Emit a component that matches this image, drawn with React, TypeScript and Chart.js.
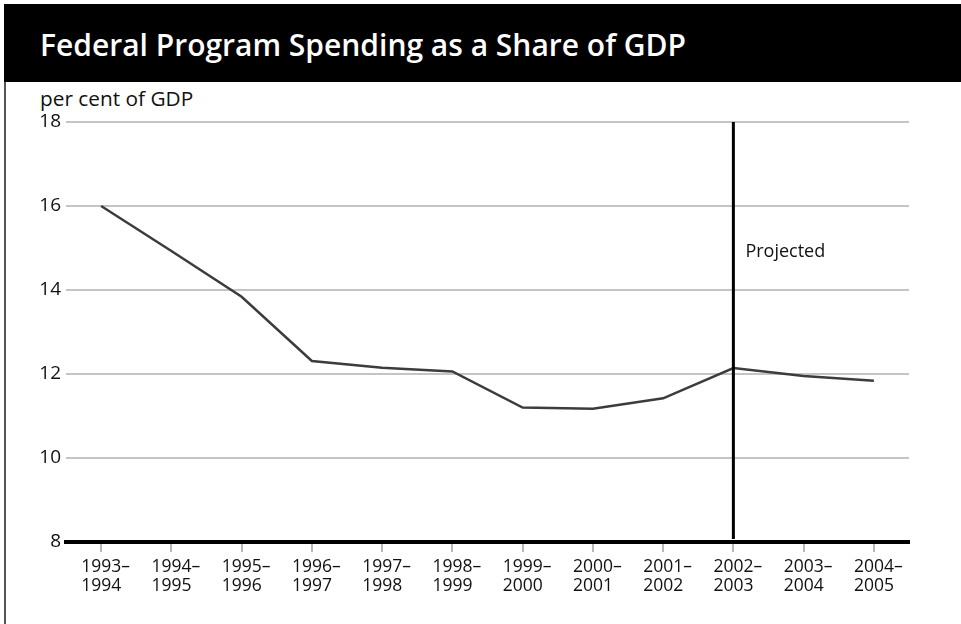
import React, { useEffect, useRef } from 'react';
import { Chart, registerables } from 'chart.js';

Chart.register(...registerables);

const titleText = 'Federal Program Spending as a Share of GDP';
const yAxisTitle = 'per cent of GDP';
const categories: string[][] = [
  ['1993–', '1994'],
  ['1994–', '1995'],
  ['1995–', '1996'],
  ['1996–', '1997'],
  ['1997–', '1998'],
  ['1998–', '1999'],
  ['1999–', '2000'],
  ['2000–', '2001'],
  ['2001–', '2002'],
  ['2002–', '2003'],
  ['2003–', '2004'],
  ['2004–', '2005'],
];
const spending = [16.0, 14.93, 13.84, 12.31, 12.15, 12.06, 11.2, 11.17, 11.42, 12.14, 11.95, 11.84];
const yTicks = [8, 10, 12, 14, 16, 18];
const projectedIndex = 9;
const projectedLabel = 'Projected';
const projectedLabelValue = 14.9;

const FONT = '"Open Sans", "DejaVu Sans", sans-serif';

const projectionPlugin = {
  id: 'projection',
  afterDatasetsDraw(chart: any) {
    const { ctx, scales } = chart;
    const x = scales.x;
    const y = scales.y;
    const px = x.getPixelForValue(projectedIndex);
    ctx.save();
    ctx.strokeStyle = '#000';
    ctx.lineWidth = 3;
    ctx.beginPath();
    ctx.moveTo(px, y.getPixelForValue(yTicks[yTicks.length - 1]));
    ctx.lineTo(px, y.getPixelForValue(yTicks[0]) - 3);
    ctx.stroke();
    ctx.fillStyle = '#111';
    ctx.font = `18px ${FONT}`;
    ctx.textBaseline = 'middle';
    ctx.textAlign = 'left';
    ctx.fillText(projectedLabel, px + 12, y.getPixelForValue(projectedLabelValue));
    ctx.restore();
  },
};

export default function App() {
  const canvasRef = useRef<HTMLCanvasElement | null>(null);

  useEffect(() => {
    if (!canvasRef.current) return;
    const chart = new Chart(canvasRef.current, {
      type: 'line',
      data: {
        labels: categories,
        datasets: [
          {
            data: spending,
            borderColor: '#3c3c3c',
            borderWidth: 2.5,
            pointRadius: 0,
            tension: 0,
            fill: false,
          },
        ],
      },
      options: {
        animation: false,
        responsive: true,
        maintainAspectRatio: false,
        layout: { padding: { top: 40, left: 0, right: 52, bottom: 22 } },
        plugins: {
          legend: { display: false },
          tooltip: { enabled: false },
          title: { display: false },
        },
        scales: {
          x: {
            type: 'category',
            offset: true,
            afterFit: (scale: any) => {
              scale.height = 60;
            },
            grid: {
              display: true,
              drawOnChartArea: false,
              drawTicks: true,
              tickLength: 10,
              color: '#b8b8b8',
              lineWidth: 2,
              offset: false,
            },
            border: { display: true, color: '#000', width: 4 },
            ticks: {
              autoSkip: false,
              maxRotation: 0,
              minRotation: 0,
              align: 'start',
              labelOffset: -20,
              padding: 6,
              color: '#111',
              font: { family: FONT, size: 17.5, lineHeight: '19px' },
            },
          },
          y: {
            min: 8,
            max: 18,
            afterFit: (scale: any) => {
              scale.width = 66;
            },
            afterBuildTicks: (scale: any) => {
              scale.ticks = yTicks.map((v) => ({ value: v }));
            },
            grid: {
              color: '#c4c4c4',
              lineWidth: 2,
              drawTicks: false,
            },
            border: { display: false },
            ticks: {
              padding: 5,
              color: '#111',
              font: { family: FONT, size: 19 },
            },
          },
        },
      },
      plugins: [projectionPlugin],
    });
    return () => chart.destroy();
  }, []);

  return (
    <div
      style={{
        position: 'absolute',
        left: 0,
        top: 0,
        width: 961,
        height: 624,
        background: '#fff',
        overflow: 'hidden',
        fontFamily: FONT,
      }}
    >
      <div
        style={{
          position: 'absolute',
          left: 4,
          top: 4,
          width: 957,
          height: 78,
          background: '#000',
        }}
      />
      <div
        style={{
          position: 'absolute',
          left: 40,
          top: 30,
          fontSize: 30,
          lineHeight: '30px',
          fontWeight: 600,
          color: '#fff',
          whiteSpace: 'nowrap',
        }}
      >
        {titleText}
      </div>
      <div
        style={{
          position: 'absolute',
          left: 4,
          top: 82,
          width: 2,
          height: 542,
          background: '#555',
        }}
      />
      <div
        style={{
          position: 'absolute',
          left: 40,
          top: 88,
          fontSize: 20.8,
          lineHeight: '20px',
          color: '#111',
          whiteSpace: 'nowrap',
        }}
      >
        {yAxisTitle}
      </div>
      <div style={{ position: 'absolute', left: 0, top: 82, width: 961, height: 542 }}>
        <canvas ref={canvasRef} />
      </div>
    </div>
  );
}
